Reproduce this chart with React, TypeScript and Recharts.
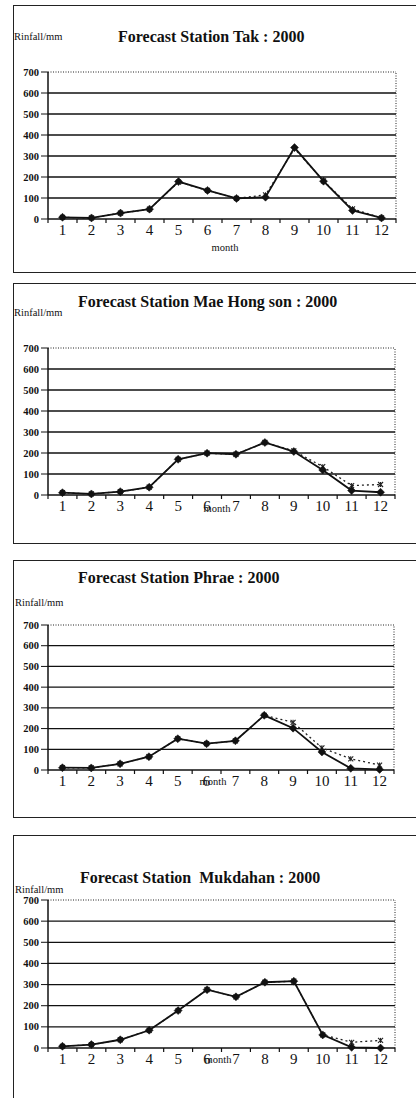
import React from "react";
import { LineChart, Line, XAxis, YAxis, ReferenceLine } from "recharts";

// ---- data ----
const months = [1, 2, 3, 4, 5, 6, 7, 8, 9, 10, 11, 12];
const yTicks = [0, 100, 200, 300, 400, 500, 600, 700];
const gridValues = [100, 200, 300, 400, 500, 600];

const takObserved = [8, 5, 28, 47, 178, 136, 98, 104, 340, 180, 41, 5];
const takForecast = [8, 5, 28, 47, 176, 136, 98, 115, 335, 182, 48, 5];

const maeObserved = [11, 5, 16, 37, 170, 199, 194, 250, 207, 119, 21, 13];
const maeForecast = [11, 5, 16, 37, 170, 199, 194, 250, 210, 135, 45, 50];

const phraeObserved = [11, 10, 30, 64, 151, 127, 141, 264, 202, 87, 8, 3];
const phraeForecast = [11, 10, 30, 64, 151, 127, 141, 264, 230, 107, 54, 24];

const mukObserved = [8, 16, 39, 84, 177, 276, 242, 311, 316, 62, 3, 0];
const mukForecast = [8, 16, 39, 84, 177, 276, 242, 311, 316, 62, 27, 36];

const titles = [
  "Forecast Station Tak : 2000",
  "Forecast Station Mae Hong son : 2000",
  "Forecast Station Phrae : 2000",
  "Forecast Station  Mukdahan : 2000",
];
const yLabel = "Rinfall/mm";
const xLabel = "month";

// tick positions: integers for labels, half values for boundary tick marks
const xTicks: number[] = [];
for (let i = 0; i <= 12; i++) {
  xTicks.push(i + 0.5);
  if (i < 12) xTicks.push(i + 1);
}

const buildRows = (obs: number[], fc: number[]) =>
  months.map((m, i) => ({ month: m, observed: obs[i], forecast: fc[i] }));

const FONT = "Liberation Serif, Times New Roman, serif";

const Diamond = (props: any) => {
  const { cx, cy } = props;
  if (cx == null || cy == null) return null;
  const r = 4;
  return (
    <polygon
      points={`${cx},${cy - r} ${cx + r},${cy} ${cx},${cy + r} ${cx - r},${cy}`}
      fill="#111"
      stroke="#111"
      strokeWidth={0.5}
    />
  );
};

const Star = (props: any) => {
  const { cx, cy } = props;
  if (cx == null || cy == null) return null;
  const r = 2.5;
  return (
    <g stroke="#222" strokeWidth={1.1}>
      <line x1={cx - r} y1={cy - r} x2={cx + r} y2={cy + r} />
      <line x1={cx - r} y1={cy + r} x2={cx + r} y2={cy - r} />
      <line x1={cx} y1={cy - r} x2={cx} y2={cy + r} />
    </g>
  );
};

const XTick = (props: any) => {
  const { x, y, payload } = props;
  const v = payload.value;
  if (Number.isInteger(v)) {
    return (
      <text x={x} y={y + 16} textAnchor="middle" fontSize={15} fontFamily={FONT} fill="#111">
        {v}
      </text>
    );
  }
  return <line x1={x} y1={y} x2={x} y2={y + 4} stroke="#111" strokeWidth={1.2} />;
};

const YTick = (props: any) => {
  const { x, y, payload } = props;
  return (
    <text x={x} y={y + 3.5} textAnchor="end" fontSize={10.5} fontWeight="bold" fontFamily={FONT} fill="#111">
      {payload.value}
    </text>
  );
};

type PanelProps = {
  rows: any[];
  title: string;
  boxTop: number;
  boxHeight: number;
  plotTop: number;
  plotBottom: number;
  plotRight: number;
  titleX: number;
  titleY: number;
  yLabelX: number;
  yLabelY: number;
  monthX: number;
  monthY: number;
};

const Panel = (p: PanelProps) => {
  const plotH = p.plotBottom - p.plotTop;
  const chartTop = p.plotTop - 10;
  const chartH = 10 + plotH + 30;
  return (
    <>
      <div
        style={{
          position: "absolute",
          left: 13,
          top: p.boxTop,
          width: 420,
          height: p.boxHeight,
          border: "1.5px solid #222",
          boxSizing: "border-box",
        }}
      />
      <div
        style={{
          position: "absolute",
          left: p.titleX,
          top: p.titleY - 10,
          fontFamily: FONT,
          fontWeight: "bold",
          fontSize: 16,
          color: "#111",
          whiteSpace: "pre",
          lineHeight: "20px",
        }}
      >
        {p.title}
      </div>
      <div
        style={{
          position: "absolute",
          left: p.yLabelX,
          top: p.yLabelY - 7,
          fontFamily: FONT,
          fontSize: 10.5,
          color: "#111",
          lineHeight: "14px",
          whiteSpace: "pre",
        }}
      >
        {yLabel}
      </div>
      <div style={{ position: "absolute", left: 0, top: chartTop }}>
        <LineChart
          width={416}
          height={chartH}
          data={p.rows}
          margin={{ top: 10, right: 416 - p.plotRight, left: 8, bottom: 0 }}
        >
          <XAxis
            dataKey="month"
            type="number"
            domain={[0.5, 12.5]}
            ticks={xTicks}
            interval={0}
            tickLine={false}
            tickSize={0}
            tickMargin={0}
            tick={<XTick />}
            axisLine={{ stroke: "#111", strokeWidth: 1.5 }}
            height={30}
            allowDataOverflow
          />
          <YAxis
            type="number"
            domain={[0, 700]}
            ticks={yTicks}
            interval={0}
            width={40}
            tickSize={7}
            tickMargin={2}
            tickLine={{ stroke: "#111", strokeWidth: 1 }}
            axisLine={{ stroke: "#111", strokeWidth: 1.5 }}
            tick={<YTick />}
          />
          {gridValues.map((v) => (
            <ReferenceLine key={v} y={v} stroke="#111" strokeWidth={1.3} />
          ))}
          <ReferenceLine y={700} stroke="#222" strokeWidth={1} strokeDasharray="1 1.5" />
          <ReferenceLine x={12.5} stroke="#222" strokeWidth={1} strokeDasharray="1 1.5" />
          <Line
            dataKey="forecast"
            stroke="#222"
            strokeWidth={1.3}
            strokeDasharray="2 3"
            dot={<Star />}
            isAnimationActive={false}
          />
          <Line
            dataKey="observed"
            stroke="#111"
            strokeWidth={1.8}
            dot={<Diamond />}
            isAnimationActive={false}
          />
        </LineChart>
      </div>
      <div
        style={{
          position: "absolute",
          left: p.monthX - 25,
          width: 50,
          textAlign: "center",
          top: p.monthY - 7,
          fontFamily: FONT,
          fontSize: 10.5,
          color: "#111",
          lineHeight: "14px",
        }}
      >
        {xLabel}
      </div>
    </>
  );
};

export default function App() {
  return (
    <div
      style={{
        position: "absolute",
        left: 0,
        top: 0,
        width: 416,
        height: 1098,
        overflow: "hidden",
        background: "#fff",
      }}
    >
      <Panel
        rows={buildRows(takObserved, takForecast)}
        title={titles[0]}
        boxTop={5}
        boxHeight={268}
        plotTop={72}
        plotBottom={219}
        plotRight={396}
        titleX={118}
        titleY={37}
        yLabelX={14}
        yLabelY={37}
        monthX={225}
        monthY={248}
      />
      <Panel
        rows={buildRows(maeObserved, maeForecast)}
        title={titles[1]}
        boxTop={283}
        boxHeight={261}
        plotTop={348}
        plotBottom={495}
        plotRight={395}
        titleX={78}
        titleY={302}
        yLabelX={14}
        yLabelY={313}
        monthX={217}
        monthY={509}
      />
      <Panel
        rows={buildRows(phraeObserved, phraeForecast)}
        title={titles[2]}
        boxTop={560}
        boxHeight={258}
        plotTop={625}
        plotBottom={770}
        plotRight={394}
        titleX={78}
        titleY={578}
        yLabelX={15}
        yLabelY={603}
        monthX={213}
        monthY={782}
      />
      <Panel
        rows={buildRows(mukObserved, mukForecast)}
        title={titles[3]}
        boxTop={835}
        boxHeight={300}
        plotTop={900}
        plotBottom={1048}
        plotRight={395}
        titleX={80}
        titleY={878}
        yLabelX={15}
        yLabelY={890}
        monthX={218}
        monthY={1060}
      />
    </div>
  );
}
